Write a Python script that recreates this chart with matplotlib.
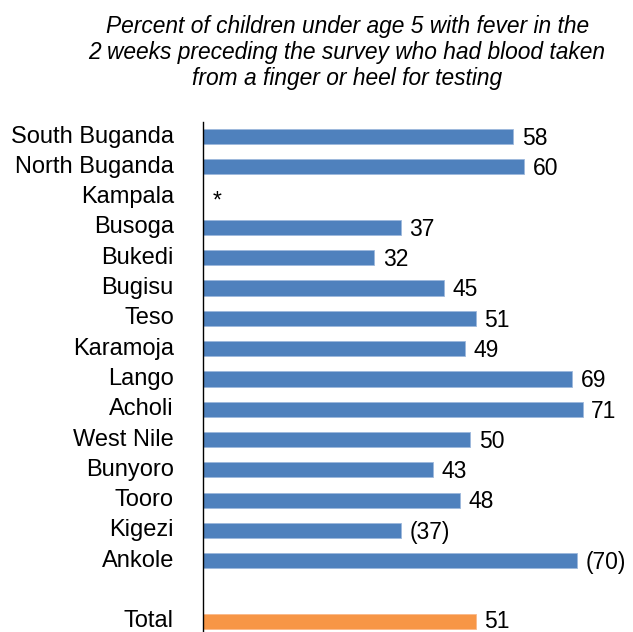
import numpy as np
import matplotlib.pyplot as plt
import matplotlib.transforms as mtransforms

plt.rcParams['font.family'] = ['Liberation Sans', 'DejaVu Sans']

# Régions et pourcentages (None = pas de barre, '*' affiché)
regions = ['South Buganda', 'North Buganda', 'Kampala', 'Busoga', 'Bukedi',
           'Bugisu', 'Teso', 'Karamoja', 'Lango', 'Acholi', 'West Nile',
           'Bunyoro', 'Tooro', 'Kigezi', 'Ankole']
valeurs = [58, 60, None, 37, 32, 45, 51, 49, 69, 71, 50, 43, 48, 37, 70]
etiquettes = ['58', '60', '*', '37', '32', '45', '51', '49', '69', '71',
              '50', '43', '48', '(37)', '(70)']
total = 51

titre = ['Percent of children under age 5 with fever in the',
         '2 weeks preceding the survey who had blood taken',
         'from a finger or heel for testing']

bleu = '#4F81BD'
orange = '#F79646'

fig = plt.figure(figsize=(6.33, 6.32), dpi=100)
ax = fig.add_axes([203/633, 0, 1 - 203/633, 1 - 122/632])

y = np.arange(len(regions))
for i, v in enumerate(valeurs):
    if v is not None:
        ax.barh(y[i], v, height=0.5, color=bleu, edgecolor='#9DB8DC', linewidth=0.6)
        ax.text(v + 1.6, y[i] + 0.06, etiquettes[i], va='center', ha='left', fontsize=16.5)
    else:
        ax.text(1.8, y[i] + 0.12, etiquettes[i], va='center', ha='left', fontsize=16.5)

y_total = len(regions) + 1
ax.barh(y_total, total, height=0.5, color=orange, edgecolor='#FAB98A', linewidth=0.6)
ax.text(total + 1.6, y_total, str(total), va='center', ha='left', fontsize=16.5)

ax.set_yticks(list(y) + [y_total])
ax.set_yticklabels(regions + ['Total'], fontsize=17)
ax.tick_params(axis='y', length=0, pad=21)
# décalage léger des noms vers le haut
decalage = mtransforms.ScaledTranslation(0, 2.5/100, fig.dpi_scale_trans)
for lbl in ax.get_yticklabels():
    lbl.set_transform(lbl.get_transform() + decalage)
ax.set_ylim(16.35, -0.48)
ax.set_xlim(0, 80.4)
ax.set_xticks([])
for s in ['top', 'right', 'bottom']:
    ax.spines[s].set_visible(False)
ax.spines['left'].set_linewidth(1)

# titre en italique, ligne par ligne
fig.text(348/633, 1 - 33/632, titre[0], ha='center', va='baseline',
         fontsize=16.4, style='italic')
fig.text(88/633, 1 - 59/632, titre[1], ha='left', va='baseline',
         fontsize=16.4, style='italic')
fig.text(347/633, 1 - 85/632, titre[2], ha='center', va='baseline',
         fontsize=16.4, style='italic')

plt.savefig('out.png', dpi=100)
